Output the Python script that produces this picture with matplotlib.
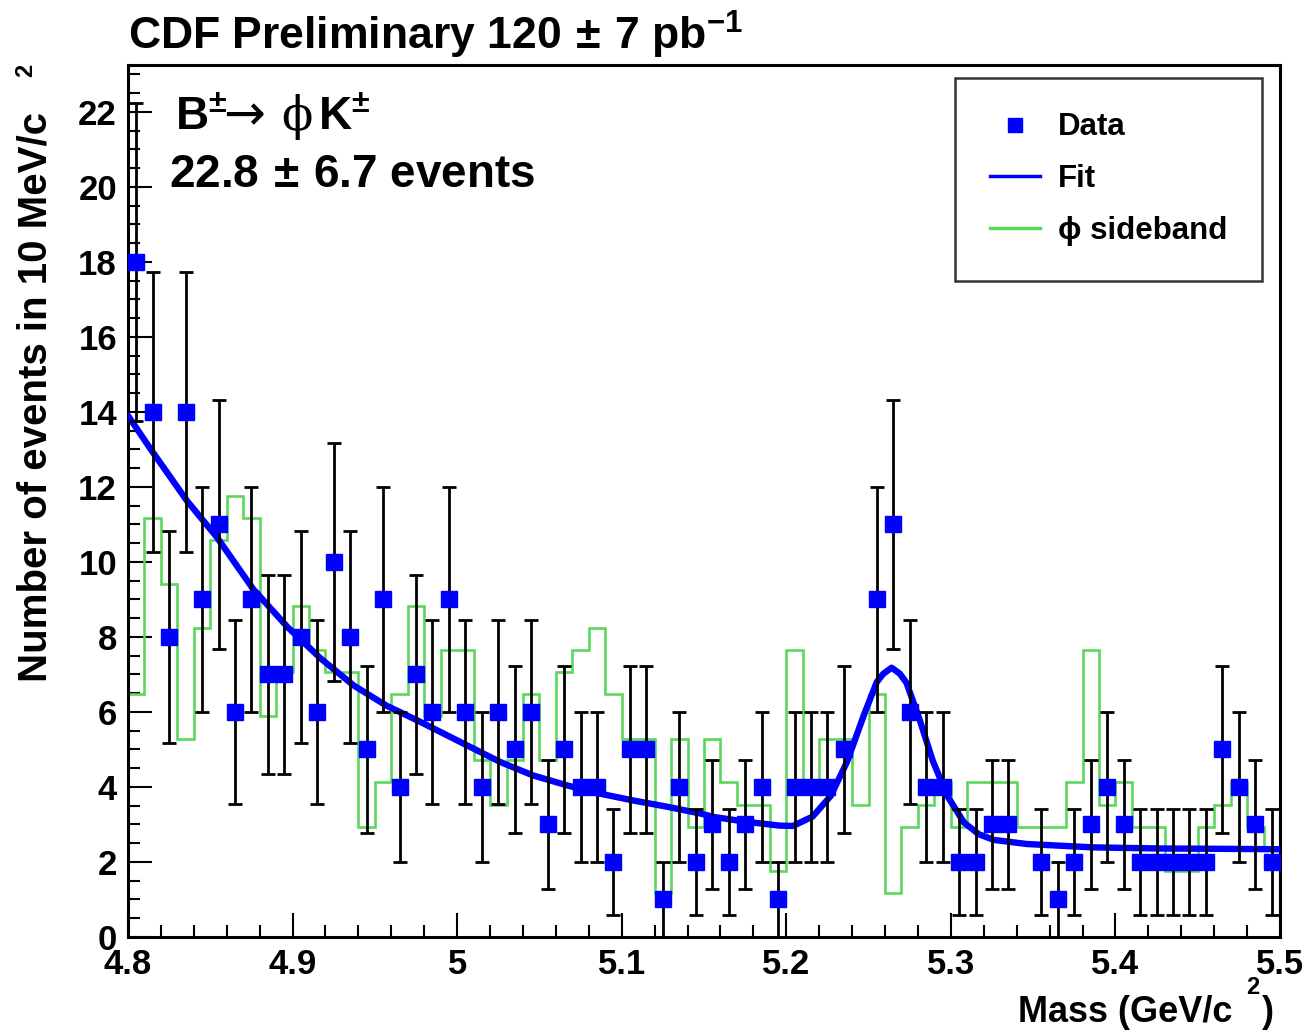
import matplotlib
matplotlib.use("Agg")
import matplotlib.pyplot as plt
import numpy as np
from matplotlib.lines import Line2D
from matplotlib.ticker import MultipleLocator, FuncFormatter
from matplotlib.font_manager import FontProperties

# events per 10 MeV bin, 4.80 - 5.50 GeV
counts = [18, 14, 8, 14, 9, 11, 6, 9, 7, 7,
          8, 6, 10, 8, 5, 9, 4, 7, 6, 9,
          6, 4, 6, 5, 6, 3, 5, 4, 4, 2,
          5, 5, 1, 4, 2, 3, 2, 3, 4, 1,
          4, 4, 4, 5, 0, 9, 11, 6, 4, 4,
          2, 2, 3, 3, 0, 2, 1, 2, 3, 4,
          3, 2, 2, 2, 2, 2, 5, 4, 3, 2]

# phi sideband (scaled)
sideband = [6.47, 11.18, 9.41, 5.29, 8.24, 10.59, 11.76, 11.18, 5.88, 7.06,
            8.82, 7.65, 7.06, 7.06, 2.94, 4.12, 6.47, 8.82, 5.88, 7.65,
            7.65, 4.71, 3.53, 4.71, 6.47, 4.71, 7.06, 7.65, 8.24, 6.47,
            5.29, 5.29, 1.18, 5.29, 2.94, 5.29, 4.12, 3.53, 3.53, 1.76,
            7.65, 4.12, 5.29, 5.29, 3.53, 6.47, 1.18, 2.94, 3.53, 4.12,
            2.94, 4.12, 4.12, 4.12, 2.94, 2.94, 2.94, 4.12, 7.65, 3.53,
            4.12, 2.94, 2.94, 1.76, 1.76, 2.94, 3.53, 4.12, 2.94, 2.35]

# fit curve
fit_m = [4.800, 4.815, 4.836, 4.854, 4.876, 4.897, 4.917, 4.937, 4.957, 4.977,
         5.006, 5.026, 5.046, 5.067, 5.087, 5.107, 5.128, 5.148, 5.156, 5.176,
         5.196, 5.204, 5.216, 5.227, 5.237, 5.247, 5.255, 5.259, 5.264, 5.269,
         5.273, 5.281, 5.289, 5.298, 5.308, 5.317, 5.326, 5.346, 5.386, 5.427,
         5.468, 5.500]
fit_y = [13.9, 12.93, 11.62, 10.66, 9.28, 8.26, 7.43, 6.71, 6.17, 5.75,
         5.11, 4.67, 4.31, 4.04, 3.82, 3.64, 3.47, 3.29, 3.2, 3.07,
         2.97, 2.96, 3.21, 3.76, 4.68, 5.9, 6.8, 7.02, 7.18, 7.02,
         6.78, 5.8, 4.7, 3.75, 3.05, 2.74, 2.59, 2.48, 2.39, 2.36,
         2.35, 2.34]

m_lo, m_hi, bin_w = 4.80, 5.50, 0.01
edges = m_lo + bin_w * np.arange(len(counts) + 1)
centers = 0.5 * (edges[:-1] + edges[1:])

plt.rcParams["mathtext.fontset"] = "custom"
for k in ("rm", "it", "bf", "sf"):
    plt.rcParams["mathtext." + k] = "Liberation Sans:bold"

bold = dict(family=["Liberation Sans", "DejaVu Sans"], weight="bold")

W, H = 1310, 1033
fig = plt.figure(figsize=(W / 100, H / 100), dpi=100)
ax = fig.add_axes([128 / W, 96 / H, 1152 / W, 872 / H])

blue = "#0000ff"
green = "#5cd65c"

ax.stairs(sideband, edges, color=green, lw=1.9, zorder=2, baseline=None)
ax.plot(fit_m, fit_y, color=blue, lw=4.6, zorder=3,
        solid_joinstyle="round", solid_capstyle="round")

cnt = np.array(counts, dtype=float)
ok = cnt > 0
ax.errorbar(centers[ok], cnt[ok], yerr=np.sqrt(cnt[ok]), fmt="none",
            ecolor="black", elinewidth=2.0, capsize=5, capthick=2.0, zorder=4)
ax.plot(centers[ok], cnt[ok], "s", color=blue, ms=12, mec=blue, zorder=5)

ax.set_xlim(m_lo, m_hi)
ax.set_ylim(0, 23.25)
ax.xaxis.set_major_locator(MultipleLocator(0.1))
ax.xaxis.set_minor_locator(MultipleLocator(0.02))
ax.yaxis.set_major_locator(MultipleLocator(2))
ax.yaxis.set_minor_locator(MultipleLocator(0.5))
ax.xaxis.set_major_formatter(FuncFormatter(lambda v, p: f"{v:g}"))
ax.tick_params(which="both", direction="in", width=1.5, top=False, right=False)
ax.tick_params(which="major", length=17)
ax.tick_params(which="minor", length=8.5)
ax.tick_params(axis="x", pad=8)
ax.tick_params(axis="y", pad=8)
for lab in ax.get_xticklabels() + ax.get_yticklabels():
    lab.set_fontfamily("Liberation Sans")
    lab.set_fontweight("bold")
    lab.set_fontsize(25)
for s in ax.spines.values():
    s.set_linewidth(2.2)

# decay label, pieces placed along the baseline
tr = ax.transAxes
ax.text(0.041, 0.925, r"B$^{\pm}$", transform=tr, fontsize=33,
        ha="left", va="baseline", **bold)
ax.text(0.083, 0.925, "\u2192", transform=tr, fontsize=36, family="DejaVu Sans",
        ha="left", va="baseline")
ax.text(0.133, 0.925, "\u03d5", transform=tr, fontsize=33, family="DejaVu Serif",
        ha="left", va="baseline")
ax.text(0.165, 0.925, r"K$^{\pm}$", transform=tr, fontsize=33,
        ha="left", va="baseline", **bold)
ax.text(0.036, 0.86, r"22.8$\,\pm\,$6.7 events", transform=tr,
        fontsize=33, ha="left", va="baseline", **bold)

fig.text(128 / W, 1 - 50 / H, r"CDF Preliminary 120$\,\pm\,$7 pb$^{\mathregular{-}1}$",
         fontsize=32, ha="left", va="baseline", **bold)

# axis labels
fig.text(36 / W, 1 - 397 / H, "Number of events in 10 MeV/c", rotation=90,
         fontsize=29, ha="center", va="center", **bold)
fig.text(26 / W, 1 - 70 / H, "2", rotation=90, fontsize=17, ha="center", va="center", **bold)
fig.text(1232 / W, 1 - 1022 / H, "Mass (GeV/c", fontsize=26, ha="right", va="baseline", **bold)
fig.text(1253 / W, 1 - 988 / H, "2", fontsize=17, ha="center", va="center", **bold)
fig.text(1268 / W, 1 - 1022 / H, ")", fontsize=26, ha="center", va="baseline", **bold)

handles = [
    Line2D([], [], ls="none", marker="s", color=blue, ms=10),
    Line2D([], [], color=blue, lw=2.5),
    Line2D([], [], color=green, lw=2.5),
]
leg = ax.legend(handles, ["Data", "Fit", "\u03d5 sideband"], loc="upper left",
                bbox_to_anchor=(0.718, 0.985), frameon=True, fancybox=False,
                prop=FontProperties(family=["Liberation Sans", "DejaVu Sans"], weight="bold", size=22.5),
                handlelength=1.6, handletextpad=0.6, labelspacing=0.7,
                borderpad=1.1, borderaxespad=0)
leg.get_frame().set_edgecolor("black")
leg.get_frame().set_linewidth(1.8)
leg.set_zorder(10)

fig.savefig("out.png", dpi=100)
